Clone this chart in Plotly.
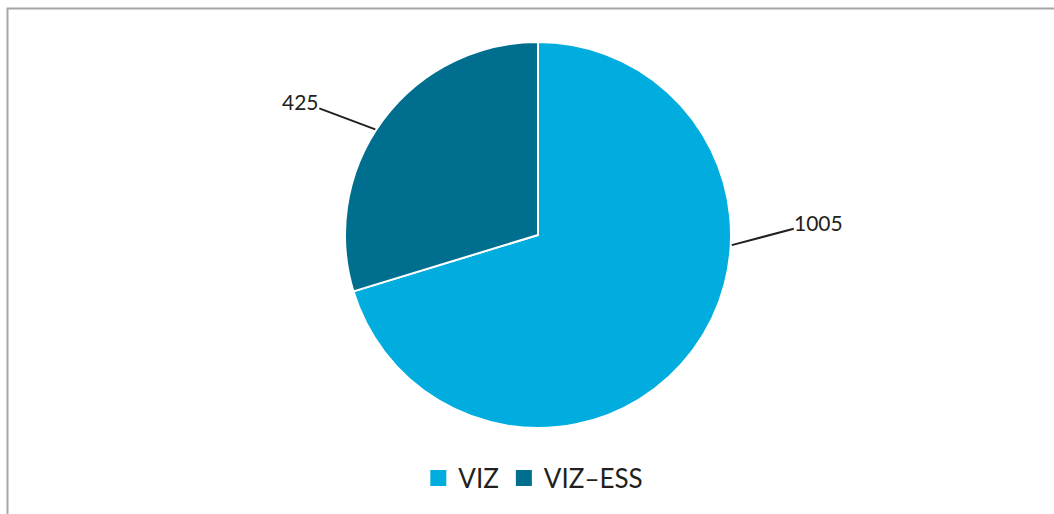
import math
import plotly.graph_objects as go

labels = ["VIZ", "VIZ–ESS"]
values = [1005, 425]
colors = ["#00ADDE", "#006E8E"]

W, H = 1054, 514
cx, cy, R = 538, 235, 193  # pie centre / radius in pixels
FONT = "Lato, Open Sans, sans-serif"
TXT = "#231F20"

fig = go.Figure(go.Pie(
    labels=labels, values=values, sort=False, direction="clockwise", rotation=0,
    marker=dict(colors=colors, line=dict(color="white", width=2)),
    textinfo="none", hoverinfo="label+value", showlegend=False,
    domain=dict(x=[(cx - R) / W, (cx + R) / W], y=[(H - cy - R) / H, (H - cy + R) / H]),
))

# legend proxies (larger square swatches as in the reference)
for lab, col in zip(labels, colors):
    fig.add_trace(go.Scatter(x=[None], y=[None], mode="markers", name=lab,
                             marker=dict(symbol="square", size=16, color=col),
                             hoverinfo="skip"))

# label leader lines, anchored on the pie rim
label_angle = [93.0, 303.0]      # where Excel attached the leader lines (deg clockwise from top)
offsets = [(87, -23), (-75, -28)]  # text offset from the rim point, px
for v, a, (ax, ay) in zip(values, label_angle, offsets):
    t = math.radians(a)
    px = cx + (R + 1) * math.sin(t)
    py = cy - (R + 1) * math.cos(t)
    fig.add_annotation(
        x=px / W, y=1 - py / H, xref="paper", yref="paper",
        text=str(v), showarrow=True, arrowhead=0, arrowwidth=2, arrowcolor=TXT,
        ax=ax, ay=ay, standoff=0, borderpad=0,
        font=dict(family=FONT, size=21, color=TXT),
    )

# chart frame (partly outside the visible window)
fig.add_shape(type="rect", xref="paper", yref="paper",
              x0=7.5 / W, x1=1.02, y0=-0.02, y1=1 - 8.5 / H,
              line=dict(color="#A6A6A6", width=2), fillcolor="rgba(0,0,0,0)")

fig.update_layout(
    width=W, height=H,
    margin=dict(l=0, r=0, t=0, b=0),
    paper_bgcolor="white", plot_bgcolor="white",
    xaxis=dict(visible=False), yaxis=dict(visible=False),
    showlegend=True,
    legend=dict(orientation="h", x=0.506, xanchor="center", y=1 - 478 / H, yanchor="middle",
                font=dict(family=FONT, size=26, color=TXT),
                itemwidth=30, traceorder="normal", bgcolor="rgba(0,0,0,0)"),
)

fig.write_html("out.html", config={"displayModeBar": False})
with open("out.html", encoding="utf-8") as f:
    html = f.read()
html = html.replace("<body>", '<body style="margin:0;overflow:hidden">', 1)
with open("out.html", "w", encoding="utf-8") as f:
    f.write(html)
